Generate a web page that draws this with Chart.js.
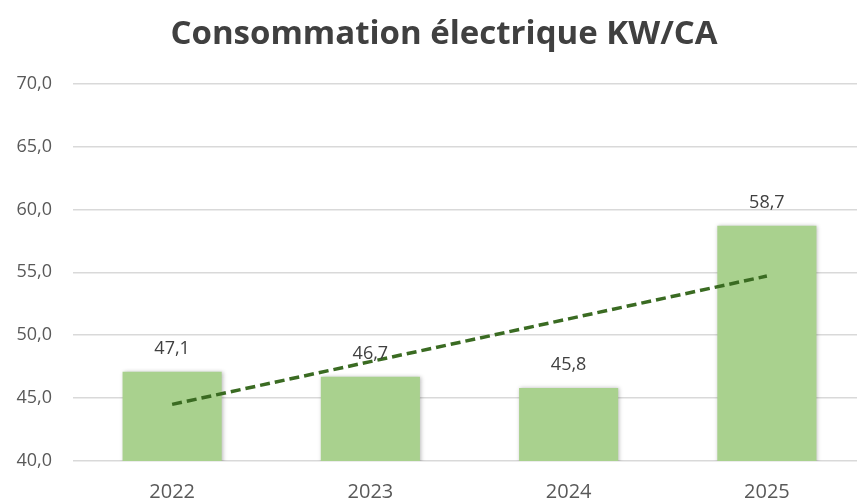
<!DOCTYPE html>
<html><head><meta charset="utf-8">
<script src="https://cdn.jsdelivr.net/npm/chart.js@4"></script>
<style>
html,body{margin:0;padding:0;background:#fff;overflow:hidden;}
#wrap{width:866px;height:502px;position:relative;}
</style></head><body>
<div id="wrap"><canvas id="c"></canvas></div>
<script>
const categories = ['2022', '2023', '2024', '2025'];
const consumption = [47.1, 46.7, 45.8, 58.7];
const trend = [44.5, 47.9, 51.3, 54.7];
const yTicks = [40, 45, 50, 55, 60, 65, 70];
const titleText = 'Consommation électrique KW/CA';

const fmt = v => v.toFixed(1).replace('.', ',');

const labelPlugin = {
  id: 'barLabels',
  afterLayout(chart) {
    if (chart.titleBlock) chart.titleBlock.left = 22;
  },
  beforeDatasetDraw(chart, args) {
    if (args.index === 1) {
      const ctx = chart.ctx;
      ctx.save();
      ctx.shadowColor = 'rgba(0,0,0,0.28)';
      ctx.shadowBlur = 4;
      ctx.shadowOffsetX = 1;
      ctx.shadowOffsetY = 0;
    }
  },
  afterDatasetDraw(chart, args) {
    if (args.index === 1) chart.ctx.restore();
  },
  afterDatasetsDraw(chart) {
    const ctx = chart.ctx;
    const meta = chart.getDatasetMeta(1);
    ctx.save();
    ctx.font = '18px "Open Sans", sans-serif';
    ctx.fillStyle = '#404040';
    ctx.textAlign = 'center';
    ctx.textBaseline = 'middle';
    meta.data.forEach((bar, i) => {
      ctx.fillText(fmt(consumption[i]), bar.x, bar.y - 23);
    });
    ctx.restore();
  }
};

new Chart(document.getElementById('c'), {
  data: {
    labels: categories,
    datasets: [
      {
        type: 'line',
        data: trend,
        borderColor: '#3a6b22',
        borderWidth: 3.5,
        borderDash: [10, 5],
        pointRadius: 0,
        fill: false,
        order: 0
      },
      {
        type: 'bar',
        data: consumption,
        backgroundColor: '#a9d18e',
        barPercentage: 0.5,
        categoryPercentage: 1.0,
        order: 1
      }
    ]
  },
  options: {
    responsive: true,
    maintainAspectRatio: false,
    animation: false,
    layout: { padding: { top: 0, bottom: 0, left: 0, right: 0 } },
    plugins: {
      legend: { display: false },
      tooltip: { enabled: false },
      title: {
        display: true,
        text: titleText,
        color: '#404040',
        font: { family: '"Open Sans", sans-serif', size: 33, weight: 'bold', lineHeight: 1.2 },
        padding: { top: 15, bottom: 29 }
      }
    },
    scales: {
      x: {
        grid: { display: false },
        border: { display: false },
        afterFit: ax => { ax.height = 41; },
        ticks: { color: '#595959', font: { family: '"Open Sans", sans-serif', size: 20 }, padding: 11 }
      },
      y: {
        min: 40, max: 70,
        afterBuildTicks: ax => { ax.ticks = yTicks.map(v => ({ value: v })); },
        afterFit: ax => { ax.width = 73; },
        grid: { color: '#d9d9d9', lineWidth: 1.5, drawTicks: false },
        border: { display: false },
        ticks: { color: '#595959', font: { family: '"Open Sans", sans-serif', size: 18 }, padding: 21, callback: v => fmt(v) }
      }
    }
  },
  plugins: [labelPlugin]
});
</script>
</body></html>
